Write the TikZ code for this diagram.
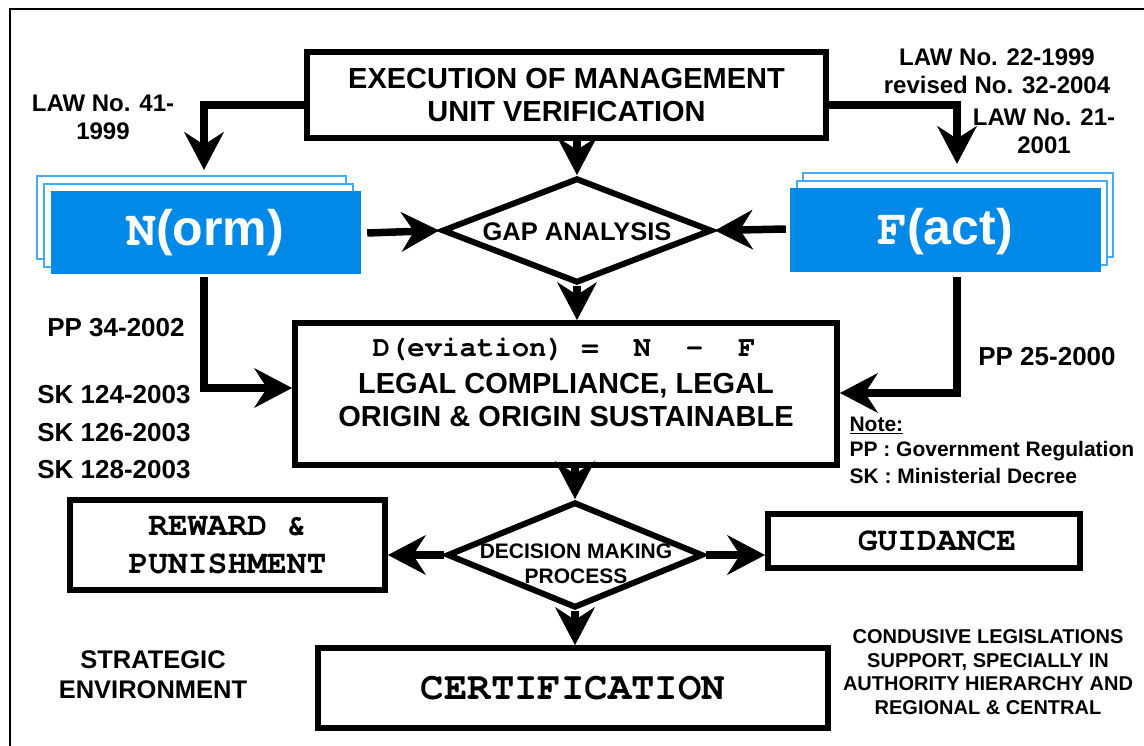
\documentclass[tikz,border=0pt]{standalone}
\usepackage{fontspec}
\setmainfont{Liberation Sans}
\setmonofont{TeX Gyre Cursor}
\usetikzlibrary{arrows.meta,shapes.geometric}
\definecolor{normblue}{RGB}{0,137,230}
\definecolor{edgeblue}{RGB}{70,170,240}
\tikzset{
  box/.style={draw, line width=6pt, inner sep=0pt, fill=white},
  bluebox/.style={fill=normblue, inner sep=0pt, text=white, font=\bfseries\fontsize{50}{56}\selectfont},
  backbox/.style={draw=edgeblue, line width=1.8pt, fill=white},
  conn/.style={line width=7.5pt, -{Stealth[length=38pt,width=40pt,inset=13pt,line width=0.5pt]}},
  dia/.style={diamond, draw, line width=6pt, inner sep=0pt, fill=white},
  bigtxt/.style={font=\bfseries\fontsize{29}{33}\selectfont, align=center},
  lbl/.style={font=\bfseries\fontsize{24}{28}\selectfont, align=center},
  sklbl/.style={font=\bfseries\fontsize{26}{30}\selectfont, align=center},
  notelbl/.style={font=\bfseries\fontsize{21}{25}\selectfont, anchor=west},
  monotxt/.style={font=\ttfamily\bfseries\fontsize{33}{38}\selectfont, align=center},
}
\begin{document}
\begin{tikzpicture}[x=1pt,y=-1pt]
\useasboundingbox (0,0) rectangle (1144,746);
% frame
\draw[line width=2pt] (9.5,760) -- (9.5,9.5) -- (1160,9.5);

% top box
\node[box, minimum width=519, minimum height=86, bigtxt] (exec) at (566.5,95) {EXECUTION OF MANAGEMENT\\UNIT VERIFICATION};

% N(orm)
\draw[backbox] (37,176) rectangle (346,259);
\draw[backbox] (44,184) rectangle (353,267);
\node[bluebox, minimum width=310, minimum height=83] (nbox) at (206,232.5) {};
\node[text=white, font=\bfseries\fontsize{50}{56}\selectfont] (ntext) at (205,233) {{\ttfamily N}(orm)};

% F(act)
\draw[backbox] (803,173) rectangle (1113,257);
\draw[backbox] (797,181) rectangle (1107,265);
\node[bluebox, minimum width=311, minimum height=84] (fbox) at (945.5,230) {};
\node[text=white, font=\bfseries\fontsize{50}{56}\selectfont] (ftext) at (945,232) {{\ttfamily F}(act)};

% gap analysis
\node[dia, minimum width=270, minimum height=105] (gap) at (577,230.5) {};
\node[font=\bfseries\fontsize{25.5}{29}\selectfont] (gaptext) at (577,232) {GAP ANALYSIS};

% deviation box
\node[box, minimum width=542, minimum height=142] (dbox) at (566,394) {};
\node[font=\ttfamily\bfseries\fontsize{29}{32}\selectfont] (dtext) at (564,349) {D(eviation)~=~~N~~-~~F};
\node[bigtxt] (ltext) at (566,400) {LEGAL COMPLIANCE, LEGAL\\ORIGIN \& ORIGIN SUSTAINABLE};

% decision
\node[dia, minimum width=256, minimum height=106] (dec) at (575,555) {};
\node[font=\bfseries\fontsize{21}{25}\selectfont, align=center] (dectext) at (576,564) {DECISION MAKING\\PROCESS};

% reward, guidance, certification
\node[box, minimum width=315, minimum height=90, monotxt] (rew) at (227.5,545) {REWARD \&\\PUNISHMENT};
\node[box, minimum width=312, minimum height=54] (guid) at (924,541) {};
\node[monotxt] (guidtext) at (937,541) {GUIDANCE};
\node[box, minimum width=510, minimum height=80, font=\ttfamily\bfseries\fontsize{39}{44}\selectfont] (cert) at (573,688) {CERTIFICATION};

% connectors
\draw[conn] ([yshift=-10pt]exec.west) -| ([xshift=-2pt,yshift=21pt]nbox.north);
\draw[conn] ([yshift=-10pt]exec.east) -| ([xshift=11.5pt,yshift=24pt]fbox.north);
\draw[conn] (exec.south -| gap.north) -- (gap.north);
\draw[conn] ([xshift=6pt,yshift=-0.5pt]nbox.east) -- (gap.west);
\draw[conn] ([xshift=-4pt,yshift=1pt]fbox.west) -- (gap.east);
\draw[conn] (gap.south) -- (gap.south |- dbox.north);
\draw[conn] ([xshift=-2pt,yshift=-3pt]nbox.south) |- ([yshift=6pt]dbox.west);
\draw[conn] ([xshift=11.5pt,yshift=-5pt]fbox.south) |- ([yshift=1pt]dbox.east);
\draw[conn] (dbox.south -| dec.north) -- (dec.north);
\draw[conn] (dec.west) -- (dec.west -| rew.east);
\draw[conn] (dec.east) -- (dec.east -| guid.west);
\draw[conn] (dec.south) -- (dec.south |- cert.north);

% labels
\node[lbl] (law41) at (103,117) {LAW No. 41-\\1999};
\node[lbl] (law22) at (997,57) {LAW No. 22-1999};
\node[lbl] (rev32) at (997,85) {revised No. 32-2004};
\node[lbl] (law21) at (1044,131) {LAW No. 21-\\2001};
\node[sklbl] (pp34) at (116,328) {PP 34-2002};
\node[sklbl] (sk124) at (114,395) {SK 124-2003};
\node[sklbl] (sk126) at (114,433) {SK 126-2003};
\node[sklbl] (sk128) at (114,470) {SK 128-2003};
\node[sklbl] (pp25) at (1047,357) {PP 25-2000};
\node[notelbl] (note) at (846,425) {\underline{Note:}};
\node[notelbl] (notepp) at (846,451) {PP : Government Regulation};
\node[notelbl] (notesk) at (846,476) {SK : Ministerial Decree};
\node[font=\bfseries\fontsize{25.5}{30}\selectfont, align=center] (strat) at (153,675) {STRATEGIC\\ENVIRONMENT};
\node[font=\bfseries\fontsize{20}{23.5}\selectfont, align=center] (cond) at (988,672) {CONDUSIVE LEGISLATIONS\\SUPPORT, SPECIALLY IN\\AUTHORITY HIERARCHY AND\\REGIONAL \& CENTRAL};
\end{tikzpicture}
\end{document}
